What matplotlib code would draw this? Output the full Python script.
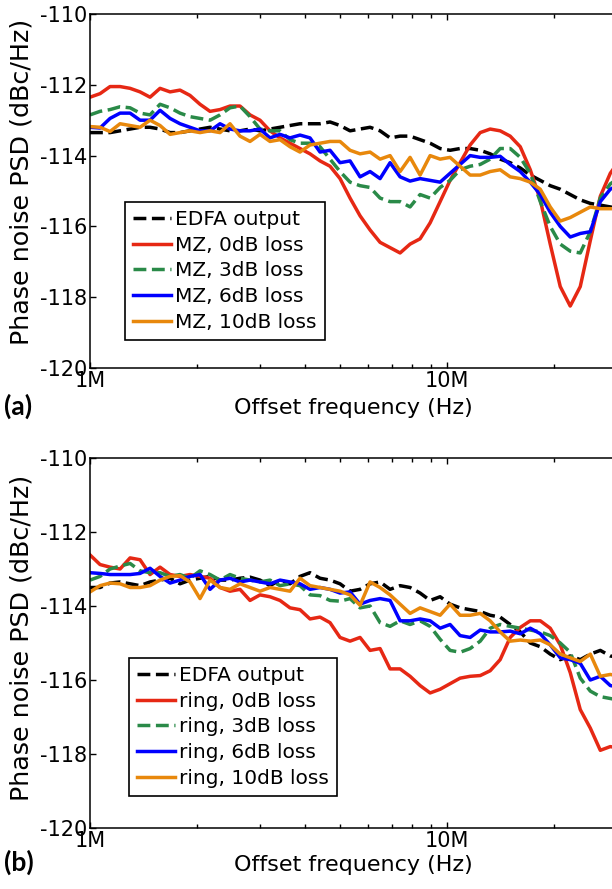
import matplotlib
matplotlib.use("Agg")
matplotlib.rcParams["axes.unicode_minus"] = False
import matplotlib.pyplot as plt
from matplotlib.ticker import FixedLocator, FixedFormatter, NullFormatter

# offset frequency samples (MHz)
freq_mhz = [
    1.00, 1.067, 1.138, 1.214, 1.295, 1.381, 1.473, 1.571, 1.676, 1.787,
    1.906, 2.033, 2.169, 2.313, 2.467, 2.631, 2.807, 2.994, 3.193, 3.406,
    3.633, 3.875, 4.133, 4.409, 4.703, 5.016, 5.351, 5.707, 6.088, 6.494,
    6.927, 7.389, 7.881, 8.407, 8.968, 9.566, 10.20, 10.88, 11.61, 12.39,
    13.21, 14.09, 15.03, 16.04, 17.11, 18.25, 19.46, 20.76, 22.14, 23.62,
    25.20, 26.88, 28.67, 30.58,
]

# panel (a): MZ filter, phase noise PSD (dBc/Hz)
a_edfa = [
    -113.35, -113.35, -113.35, -113.3, -113.25, -113.2, -113.2, -113.25, -113.35, -113.35,
    -113.3, -113.25, -113.2, -113.25, -113.3, -113.3, -113.25, -113.3, -113.25, -113.2,
    -113.15, -113.1, -113.1, -113.1, -113.05, -113.15, -113.3, -113.25, -113.2, -113.3,
    -113.5, -113.45, -113.45, -113.55, -113.65, -113.8, -113.85, -113.8, -113.8, -113.85,
    -113.95, -114.1, -114.2, -114.35, -114.55, -114.7, -114.85, -114.95, -115.1, -115.25,
    -115.35, -115.4, -115.45, -115.5,
]
a_mz0 = [
    -112.35, -112.25, -112.05, -112.05, -112.1, -112.2, -112.35, -112.1, -112.2, -112.15,
    -112.3, -112.55, -112.75, -112.7, -112.6, -112.6, -112.85, -113.0, -113.3, -113.5,
    -113.65, -113.8, -113.95, -114.15, -114.3, -114.65, -115.2, -115.7, -116.1, -116.45,
    -116.6, -116.75, -116.5, -116.35, -115.9, -115.3, -114.7, -114.2, -113.7, -113.35,
    -113.25, -113.3, -113.45, -113.75, -114.4, -115.25, -116.5, -117.7, -118.25, -117.7,
    -116.4, -115.15, -114.5, -114.1,
]
a_mz3 = [
    -112.85, -112.75, -112.7, -112.62, -112.65, -112.8, -112.85, -112.55, -112.65, -112.8,
    -112.9, -112.95, -113.0, -112.85, -112.65, -112.6, -112.9, -113.25, -113.3, -113.3,
    -113.55, -113.65, -113.65, -113.75, -114.1, -114.45, -114.75, -114.85, -114.9, -115.2,
    -115.3, -115.3, -115.45, -115.1, -115.2, -114.9, -114.7, -114.4, -114.3, -114.25,
    -114.1, -113.8, -113.8, -114.05, -114.5, -115.3, -116.0, -116.5, -116.7, -116.75,
    -116.15, -115.2, -114.8, -114.6,
]
a_mz6 = [
    -113.2, -113.22, -112.95, -112.8, -112.8, -113.0, -113.0, -112.72, -112.95, -113.1,
    -113.2, -113.3, -113.3, -113.1, -113.25, -113.3, -113.3, -113.25, -113.5, -113.4,
    -113.5, -113.42, -113.5, -113.9, -113.85, -114.2, -114.15, -114.6, -114.45, -114.65,
    -114.2, -114.6, -114.72, -114.65, -114.7, -114.75, -114.5, -114.25, -114.0, -114.05,
    -114.05, -114.02, -114.25, -114.45, -114.75, -115.1, -115.6, -116.0, -116.3, -116.2,
    -116.15, -115.3, -114.95, -114.8,
]
a_mz10 = [
    -113.18, -113.2, -113.32, -113.1, -113.15, -113.2, -113.0, -113.15, -113.4, -113.35,
    -113.3, -113.35, -113.3, -113.35, -113.1, -113.45, -113.6, -113.4, -113.6, -113.55,
    -113.75, -113.9, -113.7, -113.65, -113.6, -113.6, -113.85, -113.95, -113.9, -114.1,
    -114.0, -114.45, -114.05, -114.55, -114.0, -114.1, -114.05, -114.3, -114.55, -114.55,
    -114.45, -114.4, -114.6, -114.65, -114.75, -114.95, -115.45, -115.85, -115.75, -115.6,
    -115.45, -115.5, -115.5, -115.5,
]

# panel (b): ring filter
b_edfa = [
    -113.5, -113.5, -113.38, -113.35, -113.4, -113.45, -113.35, -113.3, -113.25, -113.4,
    -113.3, -113.25, -113.2, -113.3, -113.3, -113.25, -113.22, -113.3, -113.45, -113.3,
    -113.4, -113.2, -113.1, -113.25, -113.3, -113.4, -113.6, -113.55, -113.4, -113.35,
    -113.55, -113.45, -113.5, -113.65, -113.85, -113.75, -113.95, -114.05, -114.1, -114.15,
    -114.25, -114.3, -114.5, -114.7, -115.0, -115.1, -115.3, -115.45, -115.35, -115.45,
    -115.3, -115.2, -115.35, -115.4,
]
b_ring0 = [
    -112.62, -112.88, -112.95, -113.0, -112.7, -112.75, -113.15, -112.95, -113.15, -113.2,
    -113.15, -113.2, -113.25, -113.5, -113.6, -113.55, -113.85, -113.7, -113.75, -113.85,
    -114.05, -114.1, -114.35, -114.3, -114.45, -114.85, -114.95, -114.85, -115.2, -115.15,
    -115.7, -115.7, -115.9, -116.15, -116.35, -116.25, -116.1, -115.95, -115.9, -115.88,
    -115.75, -115.45, -114.85, -114.58, -114.4, -114.4, -114.6, -115.05, -115.8, -116.8,
    -117.3, -117.9, -117.8, -117.85,
]
b_ring3 = [
    -113.3, -113.2, -113.0, -112.92, -112.85, -113.05, -113.1, -113.1, -113.2, -113.15,
    -113.25, -113.05, -113.15, -113.3, -113.15, -113.25, -113.3, -113.35, -113.3, -113.45,
    -113.4, -113.45, -113.7, -113.72, -113.85, -113.87, -113.8, -114.05, -114.0, -114.45,
    -114.55, -114.4, -114.5, -114.4, -114.55, -114.9, -115.2, -115.25, -115.15, -114.95,
    -114.6, -114.5, -114.55, -114.6, -114.65, -114.7, -114.8, -115.0, -115.25, -115.95,
    -116.3, -116.45, -116.5, -116.55,
]
b_ring6 = [
    -113.1, -113.12, -113.15, -113.15, -113.15, -113.12, -112.98, -113.2, -113.38, -113.3,
    -113.2, -113.15, -113.55, -113.3, -113.25, -113.35, -113.3, -113.35, -113.4, -113.3,
    -113.35, -113.4, -113.55, -113.5, -113.55, -113.65, -113.62, -113.95, -113.85, -113.8,
    -113.85, -114.4, -114.4, -114.35, -114.4, -114.6, -114.5, -114.8, -114.85, -114.65,
    -114.7, -114.7, -114.68, -114.75, -114.6, -114.75, -115.05, -115.4, -115.45, -115.55,
    -116.0, -115.9, -116.15, -116.2,
]
b_ring10 = [
    -113.62, -113.45, -113.38, -113.4, -113.5, -113.5, -113.45, -113.3, -113.2, -113.18,
    -113.35, -113.8, -113.3, -113.5, -113.55, -113.4, -113.5, -113.6, -113.5, -113.55,
    -113.6, -113.25, -113.45, -113.5, -113.55, -113.6, -113.7, -113.98, -113.35, -113.5,
    -113.7, -113.95, -114.2, -114.05, -114.15, -114.25, -113.95, -114.25, -114.25, -114.2,
    -114.4, -114.7, -114.95, -114.92, -114.95, -114.92, -115.05, -115.3, -115.4, -115.5,
    -115.3, -115.9, -115.85, -115.9,
]

COLORS = ["#000000", "#e62814", "#2a8a48", "#0000ff", "#e8880c"]
STYLES = ["--", "-", "--", "-", "-"]
LOSSES = ["0dB", "3dB", "6dB", "10dB"]

FONT = "DejaVu Sans"
W, H = 612, 889
AX_W = 714  # px, two decades; the right part falls outside the picture


def draw_panel(fig, top, bottom, series, device, legend_corner, tag, tag_y,
               xlab_gap, ylab_center):
    h = bottom - top
    ax = fig.add_axes([90 / W, 1 - bottom / H, AX_W / W, h / H])
    f_hz = [f * 1e6 for f in freq_mhz]
    labels = ["EDFA output"] + [f"{device}, {l} loss" for l in LOSSES]
    for y, c, ls, lab in zip(series, COLORS, STYLES, labels):
        ax.plot(f_hz, y, color=c, linestyle=ls, linewidth=2.5, label=lab)

    ax.set_xscale("log")
    ax.set_xlim(1e6, 1e8)
    ax.set_ylim(-120, -110)

    ax.xaxis.set_major_locator(FixedLocator([1e6, 1e7, 1e8]))
    ax.xaxis.set_major_formatter(FixedFormatter(["1M", "10M", ""]))
    minors = [m * d for d in (1e6, 1e7) for m in range(2, 10)]
    ax.xaxis.set_minor_locator(FixedLocator(minors))
    ax.xaxis.set_minor_formatter(NullFormatter())
    yt = [-120, -118, -116, -114, -112, -110]
    ax.yaxis.set_major_locator(FixedLocator(yt))
    ax.yaxis.set_major_formatter(FixedFormatter([str(v) for v in yt]))

    ax.tick_params(which="both", direction="in", top=True, right=True,
                   labelsize=15, width=1.0)
    ax.tick_params(which="major", length=4.5, pad=2)
    ax.tick_params(which="minor", length=3)
    for sp in ax.spines.values():
        sp.set_linewidth(1.1)
    for t in ax.get_xticklabels() + ax.get_yticklabels():
        t.set_family(FONT)

    ax.set_xlabel("Offset frequency (Hz)", fontsize=16, family=FONT)
    ax.xaxis.set_label_coords((353 - 90) / AX_W, -xlab_gap / h)
    ax.set_ylabel("Phase noise PSD (dBc/Hz)", fontsize=18.3, family=FONT)
    ax.yaxis.set_label_coords((34 - 90) / AX_W, (bottom - ylab_center) / h)

    leg = ax.legend(loc="upper left", bbox_to_anchor=legend_corner,
                    bbox_transform=fig.transFigure, borderaxespad=0,
                    prop={"family": FONT, "size": 14.5}, handlelength=1.9,
                    handletextpad=0.2, labelspacing=0.33, borderpad=0.4,
                    fancybox=False, framealpha=1, edgecolor="black")
    leg.get_frame().set_linewidth(1.2)

    fig.text(4 / W, 1 - tag_y / H, tag, fontsize=19, fontweight="bold",
             family="Lato", ha="left", va="center")
    return ax


def main():
    fig = plt.figure(figsize=(W / 100, H / 100), dpi=100)

    draw_panel(fig, 14, 368, [a_edfa, a_mz0, a_mz3, a_mz6, a_mz10], "MZ",
               (125 / W, 1 - 202 / H), "(a)", 406, 30, 182)
    draw_panel(fig, 458, 828, [b_edfa, b_ring0, b_ring3, b_ring6, b_ring10], "ring",
               (129 / W, 1 - 658 / H), "(b)", 862, 27, 638)

    fig.savefig("out.png", dpi=100, facecolor="white")
    plt.close(fig)


if __name__ == "__main__":
    main()
